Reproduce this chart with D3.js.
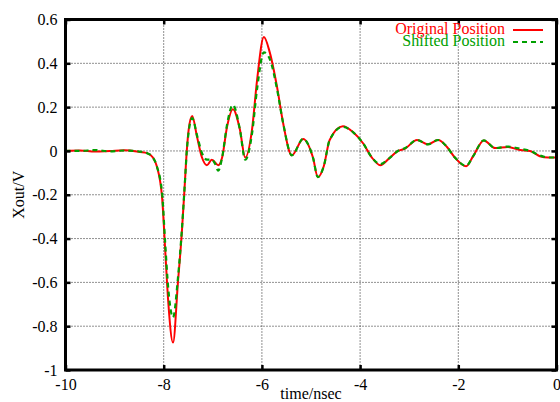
<!DOCTYPE html>
<html><head><meta charset="utf-8">
<script src="https://cdn.jsdelivr.net/npm/d3@7"></script>
<style>body{margin:0;background:#fff}svg{display:block}</style>
</head><body>
<script>
const xTicks = [-10,-8,-6,-4,-2,0];
const xTickLabels = ["-10","-8","-6","-4","-2","0"];
const yTicks = [0.6,0.4,0.2,0,-0.2,-0.4,-0.6,-0.8,-1];
const yTickLabels = ["0.6","0.4","0.2","0","-0.2","-0.4","-0.6","-0.8","-1"];
const seriesNames = ["Original Position","Shifted Position"];

const timeOrig = [-10,-9.70,-9.40,-9.09,-8.79,-8.48,-8.34,-8.22,-8.14,-8.03,-7.97,-7.91,-7.81,-7.71,-7.63,-7.57,-7.53,-7.49,-7.42,-7.32,-7.22,-7.12,-7.02,-6.89,-6.81,-6.71,-6.59,-6.45,-6.34,-6.20,-6.10,-5.96,-5.84,-5.69,-5.57,-5.39,-5.16,-4.96,-4.86,-4.74,-4.62,-4.35,-4.14,-3.94,-3.76,-3.59,-3.39,-3.23,-3.09,-2.84,-2.62,-2.41,-2.23,-2.07,-1.84,-1.70,-1.48,-1.25,-0.99,-0.74,-0.54,-0.34,-0.17,0];
const valOrig = [0.0,0.002,-0.003,0.0,0.003,-0.005,-0.01,-0.03,-0.07,-0.22,-0.45,-0.68,-0.875,-0.60,-0.37,-0.15,0.0,0.10,0.16,0.063,-0.03,-0.065,-0.04,-0.065,-0.03,0.11,0.19,0.10,-0.03,0.10,0.32,0.52,0.45,0.29,0.13,-0.02,0.055,-0.03,-0.12,-0.07,0.05,0.113,0.085,0.035,-0.03,-0.065,-0.03,0.0,0.01,0.05,0.03,0.05,0.018,-0.03,-0.07,-0.025,0.048,0.013,0.018,0.004,0.0,-0.024,-0.03,-0.03];

const timeShift = [-10,-9.70,-9.40,-9.09,-8.79,-8.48,-8.34,-8.22,-8.14,-8.03,-7.97,-7.91,-7.81,-7.71,-7.63,-7.57,-7.53,-7.49,-7.42,-7.32,-7.22,-7.12,-7.02,-6.95,-6.89,-6.81,-6.71,-6.59,-6.45,-6.34,-6.20,-6.10,-5.96,-5.84,-5.69,-5.57,-5.39,-5.16,-4.96,-4.86,-4.74,-4.62,-4.35,-4.14,-3.94,-3.76,-3.59,-3.39,-3.23,-3.09,-2.84,-2.62,-2.41,-2.23,-2.07,-1.84,-1.70,-1.48,-1.25,-0.99,-0.74,-0.54,-0.34,-0.17,0];
const valShift = [0.0,0.0,0.004,-0.002,0.002,-0.003,-0.01,-0.03,-0.07,-0.20,-0.42,-0.62,-0.76,-0.58,-0.36,-0.15,0.0,0.09,0.15,0.07,-0.01,-0.04,-0.04,-0.06,-0.09,-0.03,0.12,0.21,0.10,-0.04,0.08,0.28,0.45,0.42,0.28,0.13,-0.02,0.055,-0.03,-0.12,-0.07,0.05,0.11,0.085,0.035,-0.03,-0.06,-0.03,0.0,0.012,0.05,0.03,0.05,0.018,-0.03,-0.068,-0.025,0.048,0.013,0.02,0.01,0.0,-0.02,-0.03,-0.03];

const FONT = "'Liberation Serif', 'Times New Roman', serif";
const W = 560, H = 402;
const svg = d3.select("body").append("svg").attr("width", W).attr("height", H);
const x = d3.scaleLinear().domain([-10, 0]).range([65.5, 556.5]);
const y = d3.scaleLinear().domain([-1, 0.6]).range([370, 19.5]);

// grid
const g = svg.append("g");
g.selectAll("line.gx").data(xTicks.filter(d => d > -10 && d < 0)).join("line")
  .attr("x1", d => x(d)).attr("x2", d => x(d)).attr("y1", y(0.6)).attr("y2", y(-1))
  .attr("stroke", "#222").attr("stroke-width", 1).attr("stroke-dasharray", "1,2");
g.selectAll("line.gy").data(yTicks.filter(d => d > -1 && d < 0.6)).join("line")
  .attr("y1", d => y(d)).attr("y2", d => y(d)).attr("x1", x(-10)).attr("x2", x(0))
  .attr("stroke", "#222").attr("stroke-width", 1).attr("stroke-dasharray", "1,2");

// curves
const line = d3.line().x(d => x(d[0])).y(d => y(d[1])).curve(d3.curveMonotoneX);
const dOrig = timeOrig.map((t, i) => [t, valOrig[i]]);
const dShift = timeShift.map((t, i) => [t, valShift[i]]);
svg.append("path").attr("d", line(dOrig)).attr("fill", "none").attr("stroke", "#ff0000").attr("stroke-width", 2);
svg.append("path").attr("d", line(dShift)).attr("fill", "none").attr("stroke", "#00a000").attr("stroke-width", 2.2).attr("stroke-dasharray", "5,4");

// axes with inward ticks
const ax = svg.append("g");
const axB = d3.axisBottom(x).tickValues(xTicks).tickSize(-5).tickPadding(9).tickFormat((d, i) => xTickLabels[i]);
const axT = d3.axisTop(x).tickValues(xTicks).tickSize(-5).tickFormat("");
const axL = d3.axisLeft(y).tickValues(yTicks).tickSize(-5).tickPadding(8).tickFormat((d, i) => yTickLabels[i]);
const axR = d3.axisRight(y).tickValues(yTicks).tickSize(-5).tickFormat("");
function styleAxis(sel){ sel.select(".domain").remove(); sel.selectAll(".tick line").attr("stroke","#000").attr("stroke-width",2.5);
  sel.attr("font-family", FONT).attr("font-size", 16);
  sel.selectAll("text").attr("fill","#000").style("font-size","16px").style("font-family",FONT); }
ax.append("g").attr("transform", `translate(0,${y(-1)})`).call(axB).call(styleAxis);
ax.append("g").attr("transform", `translate(0,${y(0.6)})`).call(axT).call(styleAxis);
ax.append("g").attr("transform", `translate(${x(-10)},0)`).call(axL).call(styleAxis);
ax.append("g").attr("transform", `translate(${x(0)},0)`).call(axR).call(styleAxis);
svg.append("rect").attr("x", x(-10)).attr("y", y(0.6)).attr("width", x(0) - x(-10)).attr("height", y(-1) - y(0.6))
  .attr("fill", "none").attr("stroke", "#000").attr("stroke-width", 3);

// axis labels
svg.append("text").attr("x", x(-5)).attr("y", 399).attr("text-anchor", "middle")
  .style("font-family", FONT).style("font-size", "16px").text("time/nsec");
svg.append("text").attr("transform", `translate(24,${y(-0.2)}) rotate(-90)`).attr("text-anchor", "middle")
  .style("font-family", FONT).style("font-size", "16px").text("Xout/V");

// legend
const legColors = ["#ff0000", "#00a000"];
const legDash = [null, "5,4"];
seriesNames.forEach((n, i) => {
  const yy = 30 + i * 12;
  svg.append("text").attr("x", 505).attr("y", yy + 4).attr("text-anchor", "end").attr("fill", legColors[i])
    .style("font-family", FONT).style("font-size", "16px").text(n);
  svg.append("line").attr("x1", 513).attr("x2", 543).attr("y1", yy).attr("y2", yy)
    .attr("stroke", legColors[i]).attr("stroke-width", 2).attr("stroke-dasharray", legDash[i]);
});
</script>
</body></html>
